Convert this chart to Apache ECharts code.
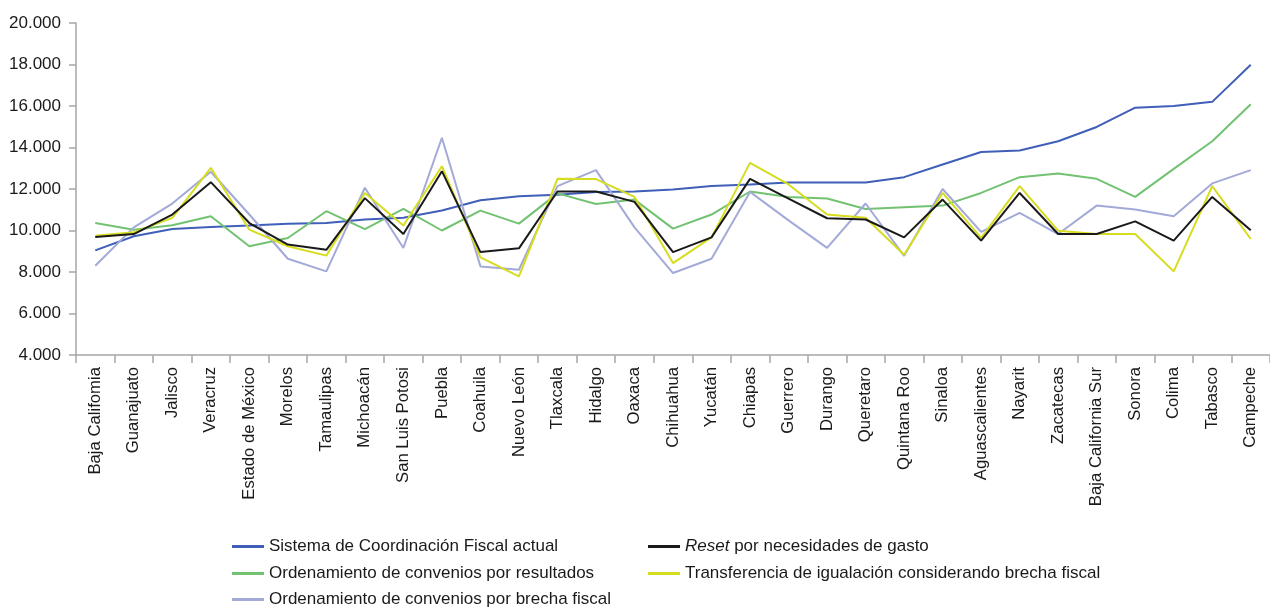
<!DOCTYPE html>
<html>
<head>
<meta charset="utf-8">
<script src="https://cdn.jsdelivr.net/npm/echarts@6/dist/echarts.min.js"></script>
<style>
  html, body { margin: 0; padding: 0; background: #ffffff; }
  #chart { width: 1270px; height: 607px; }
</style>
</head>
<body>
<div id="chart"></div>
<script>
// Entidades federativas
const estados = [
  'Baja Califomia', 'Guanajuato', 'Jalisco', 'Veracruz', 'Estado de México', 'Morelos',
  'Tamaulipas', 'Michoacán', 'San Luis Potosi', 'Puebla', 'Coahuila', 'Nuevo León',
  'Tlaxcala', 'Hidalgo', 'Oaxaca', 'Chihuahua', 'Yucatán', 'Chiapas', 'Guerrero',
  'Durango', 'Queretaro', 'Quintana Roo', 'Sinaloa', 'Aguascalientes', 'Nayarit',
  'Zacatecas', 'Baja California Sur', 'Sonora', 'Colima', 'Tabasco', 'Campeche'
];

// Nombres de los escenarios
const nombreActual = 'Sistema de Coordinación Fiscal actual';
const nombreReset = 'Reset por necesidades de gasto';
const nombreResultados = 'Ordenamiento de convenios por resultados';
const nombreIgualacion = 'Transferencia de igualación considerando brecha fiscal';
const nombreBrecha = 'Ordenamiento de convenios por brecha fiscal';

// Valores por escenario
const sistemaActual = [
  9040, 9720, 10070, 10170, 10240, 10330, 10360, 10530, 10610, 10960, 11460, 11650,
  11720, 11860, 11880, 11980, 12140, 12220, 12310, 12310, 12310, 12570, 13180, 13780,
  13860, 14300, 14990, 15920, 16000, 16200, 17990
];
const resetGasto = [
  9690, 9830, 10770, 12330, 10360, 9320, 9070, 11560, 9830, 12860, 8960, 9140,
  11880, 11880, 11380, 8960, 9670, 12490, 11540, 10590, 10530, 9670, 11490, 9510,
  11810, 9830, 9830, 10440, 9510, 11620, 10010
];
const convResultados = [
  10360, 10040, 10250, 10690, 9240, 9640, 10930, 10070, 11040, 10000, 10960, 10330,
  11790, 11280, 11490, 10090, 10770, 11880, 11620, 11540, 11040, 11120, 11200, 11810,
  12570, 12750, 12490, 11620, 12970, 14300, 16080
];
const igualacion = [
  9750, 9910, 10610, 13020, 10040, 9240, 8790, 11810, 10240, 13100, 8700, 7790,
  12490, 12480, 11620, 8430, 9670, 13260, 12220, 10770, 10610, 8830, 11810, 9640,
  12140, 9990, 9830, 9830, 8030, 12140, 9590
];
const convBrecha = [
  8300, 10150, 11300, 12830, 10770, 8640, 8030, 12060, 9160, 14470, 8270, 8110,
  12140, 12910, 10150, 7950, 8640, 11860, 10490, 9160, 11300, 8780, 12000, 9930,
  10850, 9830, 11200, 11010, 10690, 12270, 12910
];

// Eje vertical
const yMin = 4000, yMax = 20000, yPaso = 2000;

const colores = {
  actual: '#3f5fb8',
  reset: '#1a1a1a',
  resultados: '#72c272',
  igualacion: '#d6dc1e',
  brecha: '#a3aad8'
};

const fuente = '"Liberation Sans", Arial, sans-serif';

function miles(v) {
  return String(v).replace(/\B(?=(\d{3})+(?!\d))/g, '.');
}

function serie(nombre, datos, color) {
  return {
    name: nombre,
    type: 'line',
    data: datos,
    symbol: 'none',
    smooth: false,
    lineStyle: { color: color, width: 2 },
    itemStyle: { color: color },
    emphasis: { disabled: true }
  };
}

function leyenda(nombre, left, top, formatter) {
  const l = {
    data: [nombre],
    left: left,
    top: top,
    padding: 0,
    icon: 'rect',
    itemWidth: 32,
    itemHeight: 3,
    selectedMode: false,
    textStyle: {
      fontFamily: fuente,
      fontSize: 17,
      color: '#1a1a1a',
      rich: {
        i: { fontFamily: fuente, fontSize: 17, fontStyle: 'italic', color: '#1a1a1a' },
        n: { fontFamily: fuente, fontSize: 17, color: '#1a1a1a' }
      }
    }
  };
  if (formatter) l.formatter = formatter;
  return l;
}

const chart = echarts.init(document.getElementById('chart'), null, { renderer: 'canvas' });

chart.setOption({
  animation: false,
  backgroundColor: '#ffffff',
  grid: { left: 76, right: -10, top: 23, bottom: 252, containLabel: false },
  legend: [
    leyenda(nombreActual, 232, 538),
    leyenda(nombreReset, 648, 538, function () { return '{i|Reset}{n| por necesidades de gasto}'; }),
    leyenda(nombreResultados, 232, 565),
    leyenda(nombreIgualacion, 648, 565),
    leyenda(nombreBrecha, 232, 591)
  ],
  xAxis: {
    type: 'category',
    data: estados,
    boundaryGap: true,
    axisLine: { show: true, lineStyle: { color: '#a6a6a6', width: 1.5 } },
    axisTick: { show: true, alignWithLabel: false, length: 8, lineStyle: { color: '#a6a6a6', width: 1.5 } },
    axisLabel: {
      interval: 0,
      rotate: 90,
      margin: 12,
      fontFamily: fuente,
      fontSize: 16.7,
      color: '#1a1a1a'
    },
    splitLine: { show: false }
  },
  yAxis: {
    type: 'value',
    min: yMin,
    max: yMax,
    interval: yPaso,
    axisLine: { show: true, lineStyle: { color: '#a6a6a6', width: 1.5 } },
    axisTick: { show: true, length: 7, lineStyle: { color: '#a6a6a6', width: 1.5 } },
    axisLabel: {
      margin: 15,
      fontFamily: fuente,
      fontSize: 17,
      color: '#1a1a1a',
      formatter: miles
    },
    splitLine: { show: false }
  },
  series: [
    serie(nombreActual, sistemaActual, colores.actual),
    serie(nombreResultados, convResultados, colores.resultados),
    serie(nombreBrecha, convBrecha, colores.brecha),
    serie(nombreIgualacion, igualacion, colores.igualacion),
    serie(nombreReset, resetGasto, colores.reset)
  ]
});
</script>
</body>
</html>
